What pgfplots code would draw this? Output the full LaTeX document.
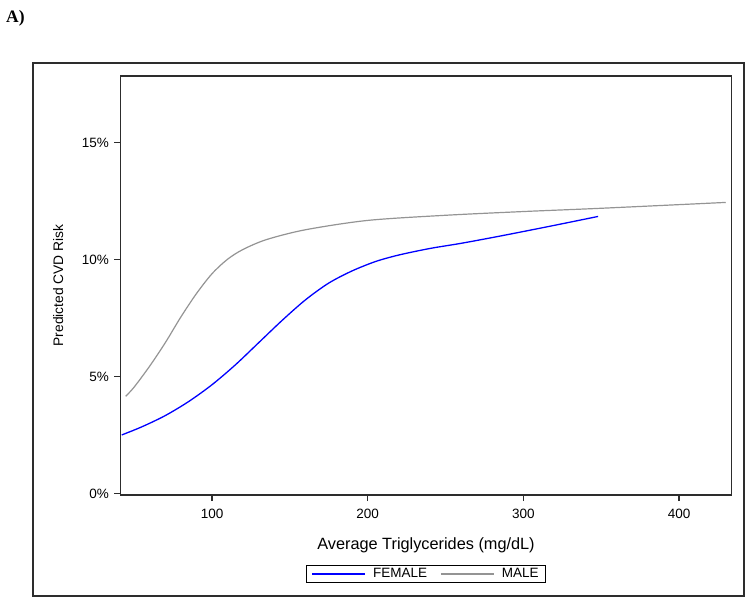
\documentclass[border=0pt]{standalone}
\usepackage{fontspec}
\setmainfont{Liberation Sans}
\newfontfamily\tnr{Liberation Serif}
\usepackage{pgfplots}
\pgfplotsset{compat=1.18}

\definecolor{femblue}{RGB}{0,0,255}
\definecolor{malegray}{RGB}{148,148,148}
\definecolor{frame}{RGB}{45,45,45}

\newcommand{\lbl}{\fontsize{13.5}{16}\selectfont}

\begin{document}
\begin{tikzpicture}[x=1pt,y=1pt]
  % page size and outer frame
  \path (0,0) rectangle (750,603);
  \draw[frame, line width=1.4pt] (33,7) rectangle (744,540);
  \node[anchor=base west, inner sep=0pt] at (6,580)
    {\tnr\bfseries\fontsize{17.5}{19}\selectfont A)};

  \begin{axis}[
      at={(120.5pt,108pt)}, anchor=south west,
      scale only axis,
      width=611pt, height=419pt,
      xmin=41.2, xmax=433.7,
      ymin=-0.07, ymax=17.86,
      xtick={100,200,300,400},
      ytick={0,5,10,15},
      yticklabel={\pgfmathprintnumber{\tick}\%},
      /pgf/number format/assume math mode=true,
      tick align=outside,
      tick pos=left,
      major tick length=6pt,
      axis line style={frame, line width=1.3pt},
      every tick/.style={frame, line width=1.2pt},
      every tick label/.append style={font=\lbl},
      xticklabel style={yshift=-5pt},
      yticklabel style={xshift=-2pt},
      xlabel={Average Triglycerides (mg/dL)},
      ylabel={Predicted CVD Risk},
      xlabel style={at={(axis description cs:0.5,-0.1193)}, anchor=center,
        font=\fontsize{16.3}{19}\selectfont},
      ylabel style={at={(axis description cs:-0.1018,0.5)}, anchor=center,
        font=\fontsize{13.8}{16}\selectfont},
      legend columns=-1,
      legend style={
        at={(axis description cs:0.5,-0.1885)}, anchor=center,
        draw=black, line width=0.9pt, font=\lbl,
        inner xsep=4.5pt, inner ysep=1.5pt,
        /tikz/every odd column/.append style={column sep=5.5pt},
        /tikz/every even column/.append style={column sep=11pt},
      },
      legend image code/.code={\draw[#1] (0pt,0pt) -- (53pt,0pt);},
    ]
    \addplot[femblue, line width=1.3pt, smooth] coordinates {
      (42,2.50) (55,2.85) (70,3.33) (85,3.93) (100,4.65) (115,5.50)
      (130,6.45) (145,7.40) (160,8.28) (175,9.00) (190,9.52) (205,9.92)
      (220,10.20) (240,10.48) (260,10.70) (285,11.01) (317,11.43) (348,11.85)
    };
    \addlegendentry{FEMALE}
    \addplot[malegray, line width=1.2pt, smooth] coordinates {
      (44.5,4.15) (50,4.55) (60,5.45) (70,6.45) (80,7.55) (90,8.55)
      (100,9.40) (110,10.02) (120,10.44) (135,10.86) (160,11.28)
      (200,11.68) (250,11.90) (300,12.06) (350,12.20) (430,12.45)
    };
    \addlegendentry{MALE}
  \end{axis}
\end{tikzpicture}
\end{document}
